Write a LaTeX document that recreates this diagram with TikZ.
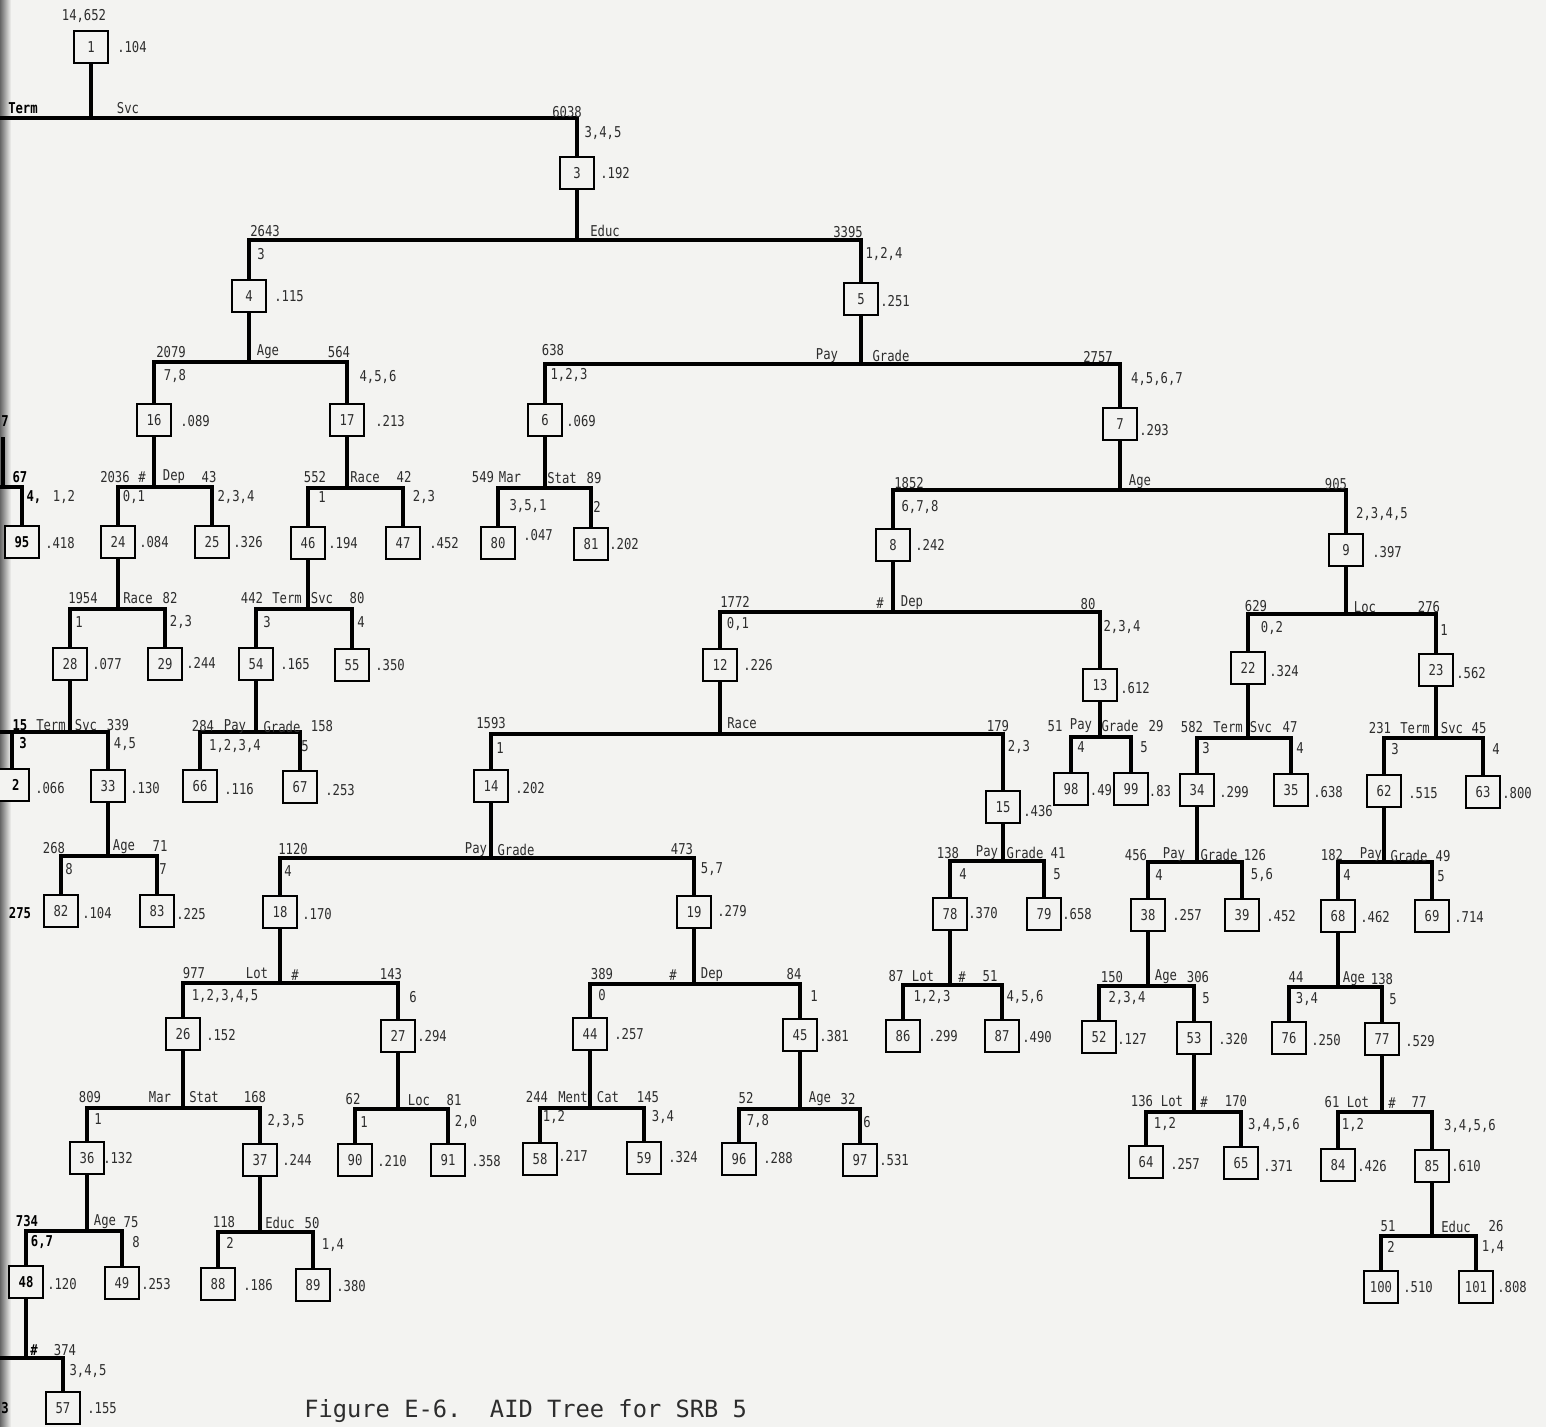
\documentclass[tikz,border=0pt]{standalone}
\usepackage{fontspec}
\newfontfamily\lblfont[FakeStretch=0.82]{DejaVu Sans Mono}
\newfontfamily\capfont{DejaVu Sans Mono}
\definecolor{bg}{RGB}{243,243,241}
\definecolor{ink}{RGB}{45,45,45}
\newcounter{lbc}
\tikzset{
  bx/.style={draw=black, line width=1.2pt, fill=bg, minimum width=0.68cm, minimum height=0.64cm,
    inner sep=0pt, font=\lblfont\fontsize{8.5}{10}\selectfont, text=ink},
  lab/.style={inner sep=0pt, font=\lblfont\fontsize{8.5}{10}\selectfont, text=ink},
  bld/.style={font=\lblfont\bfseries\fontsize{8.5}{10}\selectfont, text=black},
  edge/.style={line width=2.1pt, draw=black, line join=miter},
}
\newcommand\bnode[6]{\node[bx] (n#1) at (#2,#3) {#1};\node[lab] (v#1) at (#5,#6) {#4};}
\newcommand\lb[3]{\stepcounter{lbc}\node[lab] (t\arabic{lbc}) at (#1,#2) {#3};}
\newcommand\lbb[3]{\stepcounter{lbc}\node[lab,bld] (t\arabic{lbc}) at (#1,#2) {#3};}
\newcommand\spl[4]{%
  \draw[edge] (n#1.south) -- (n#1.south |- 0,#4);
  \draw[edge] (n#2.north) -- (n#2.north |- 0,#4) -- (n#3.north |- 0,#4) -- (n#3.north);}
\begin{document}
\begin{tikzpicture}[x=0.02cm, y=-0.02cm]
\useasboundingbox (0,0) rectangle (1546,1427);
\clip (0,0) rectangle (1546,1427);
\fill[bg] (0,0) rectangle (1546,1427);
\shade[left color=black!60, right color=bg] (0,0) rectangle (11,1427);

% ---------- boxes ----------
\bnode{1}{91}{47}{.104}{132}{47}
\bnode{3}{577}{173}{.192}{615}{173}
\bnode{4}{249}{296}{.115}{289}{296}
\bnode{5}{861}{299}{.251}{895}{301}
\bnode{6}{545}{420}{.069}{581}{421}
\bnode{7}{1120}{424}{.293}{1154}{430}
\bnode{16}{154}{420}{.089}{195}{421}
\bnode{17}{347}{420}{.213}{390}{421}
\bnode{24}{118}{542}{.084}{154}{542}
\bnode{25}{212}{542}{.326}{248}{542}
\bnode{46}{308}{543}{.194}{343}{543}
\bnode{47}{403}{543}{.452}{444}{543}
\bnode{80}{498}{543}{.047}{538}{535}
\bnode{81}{591}{544}{.202}{624}{544}
\bnode{8}{893}{545}{.242}{930}{545}
\bnode{9}{1346}{550}{.397}{1387}{552}
\bnode{12}{720}{665}{.226}{758}{665}
\bnode{13}{1100}{685}{.612}{1135}{688}
\bnode{22}{1248}{668}{.324}{1284}{671}
\bnode{23}{1436}{670}{.562}{1471}{673}
\bnode{28}{70}{664}{.077}{107}{664}
\bnode{29}{165}{664}{.244}{201}{663}
\bnode{54}{256}{664}{.165}{295}{664}
\bnode{55}{352}{665}{.350}{390}{665}
\bnode{33}{108}{786}{.130}{145}{788}
\bnode{66}{200}{786}{.116}{239}{789}
\bnode{67}{300}{787}{.253}{340}{790}
\bnode{14}{491}{786}{.202}{530}{788}
\bnode{15}{1003}{807}{.436}{1038}{811}
\bnode{98}{1071}{789}{.49}{1101}{790}
\bnode{99}{1131}{789}{.83}{1160}{791}
\bnode{34}{1197}{790}{.299}{1234}{792}
\bnode{35}{1291}{790}{.638}{1328}{792}
\bnode{62}{1384}{791}{.515}{1423}{793}
\bnode{63}{1483}{792}{.800}{1517}{793}
\bnode{82}{61}{911}{.104}{97}{913}
\bnode{83}{157}{911}{.225}{191}{914}
\bnode{18}{280}{912}{.170}{317}{914}
\bnode{19}{694}{912}{.279}{732}{911}
\bnode{78}{950}{914}{.370}{983}{913}
\bnode{79}{1044}{914}{.658}{1077}{914}
\bnode{38}{1148}{915}{.257}{1187}{915}
\bnode{39}{1242}{915}{.452}{1281}{916}
\bnode{68}{1338}{916}{.462}{1375}{917}
\bnode{69}{1432}{916}{.714}{1469}{917}
\bnode{26}{183}{1034}{.152}{221}{1035}
\bnode{27}{398}{1036}{.294}{432}{1036}
\bnode{44}{590}{1034}{.257}{629}{1034}
\bnode{45}{800}{1035}{.381}{834}{1036}
\bnode{86}{903}{1036}{.299}{943}{1036}
\bnode{87}{1002}{1036}{.490}{1037}{1037}
\bnode{52}{1099}{1037}{.127}{1132}{1039}
\bnode{53}{1194}{1038}{.320}{1233}{1039}
\bnode{76}{1289}{1038}{.250}{1326}{1040}
\bnode{77}{1382}{1039}{.529}{1420}{1041}
\bnode{36}{87}{1158}{.132}{118}{1158}
\bnode{37}{260}{1160}{.244}{297}{1160}
\bnode{90}{355}{1160}{.210}{392}{1161}
\bnode{91}{448}{1160}{.358}{486}{1161}
\bnode{58}{540}{1159}{.217}{573}{1156}
\bnode{59}{644}{1158}{.324}{683}{1157}
\bnode{96}{739}{1159}{.288}{778}{1158}
\bnode{97}{860}{1160}{.531}{894}{1160}
\bnode{64}{1146}{1162}{.257}{1185}{1164}
\bnode{65}{1241}{1163}{.371}{1278}{1166}
\bnode{84}{1338}{1165}{.426}{1372}{1166}
\bnode{85}{1432}{1166}{.610}{1466}{1166}
\bnode{49}{122}{1283}{.253}{156}{1284}
\bnode{88}{218}{1284}{.186}{258}{1285}
\bnode{89}{313}{1285}{.380}{351}{1286}
\bnode{100}{1381}{1287}{.510}{1418}{1287}
\bnode{101}{1476}{1287}{.808}{1512}{1287}
\bnode{57}{63}{1408}{.155}{102}{1408}
% bold / truncated boxes at the left edge
\node[bx,bld,line width=1.6pt] (n95) at (22,542) {95};
\node[lab] (v95) at (60,543) {.418};
\node[bx,bld,line width=1.6pt] (n48) at (26,1282) {48};
\node[lab] (v48) at (62,1284) {.120};
\node[bx,bld,line width=1.6pt] (n2x) at (12,785) {\hphantom{3}2};
\node[lab] (v2x) at (50,788) {.066};

% ---------- connectors ----------
\coordinate (e0) at (0,118);
\draw[edge] (n1.south) -- (n1.south |- e0);
\draw[edge] (e0) -- (n3.north |- e0) -- (n3.north);
\spl{3}{4}{5}{240}
\spl{4}{16}{17}{362}
\spl{5}{6}{7}{364}
\spl{16}{24}{25}{487}
\spl{17}{46}{47}{488}
\spl{6}{80}{81}{488}
\spl{7}{8}{9}{490}
\spl{24}{28}{29}{609}
\spl{46}{54}{55}{609}
\spl{8}{12}{13}{612}
\spl{9}{22}{23}{614}
\spl{54}{66}{67}{732}
\spl{12}{14}{15}{734}
\spl{13}{98}{99}{737}
\spl{22}{34}{35}{738}
\spl{23}{62}{63}{738}
\spl{33}{82}{83}{856}
\spl{14}{18}{19}{858}
\spl{15}{78}{79}{861}
\spl{34}{38}{39}{862}
\spl{62}{68}{69}{862}
\spl{18}{26}{27}{983}
\spl{19}{44}{45}{984}
\spl{78}{86}{87}{985}
\spl{38}{52}{53}{986}
\spl{68}{76}{77}{987}
\spl{26}{36}{37}{1108}
\spl{27}{90}{91}{1109}
\spl{44}{58}{59}{1108}
\spl{45}{96}{97}{1109}
\spl{53}{64}{65}{1112}
\spl{77}{84}{85}{1112}
\spl{36}{48}{49}{1231}
\spl{37}{88}{89}{1232}
\spl{85}{100}{101}{1236}
% truncated splits at the left edge
\coordinate (e1) at (0,487);
\coordinate (e4) at (3,437);
\draw[edge] (e4) -- (e4 |- e1);
\draw[edge] (e1) -- (n95.north |- e1) -- (n95.north);
\coordinate (e2) at (0,732);
\draw[edge] (n28.south) -- (n28.south |- e2);
\draw[edge] (e2) -- (n33.north |- e2) -- (n33.north);
\draw[edge] (n2x.north) -- (n2x.north |- e2);
\coordinate (e3) at (0,1358);
\draw[edge] (n48.south) -- (n48.south |- e3);
\draw[edge] (e3) -- (n57.north |- e3) -- (n57.north);

% ---------- labels ----------
\lb{84}{16}{14,652}
\lbb{23}{108}{Term}\lb{128}{108}{Svc}\lb{567}{112}{6038}\lb{603}{133}{3,4,5}
\lb{265}{231}{2643}\lb{605}{231}{Educ}\lb{848}{232}{3395}\lb{261}{254}{3}\lb{884}{254}{1,2,4}
\lb{171}{352}{2079}\lb{268}{352}{Age}\lb{339}{352}{564}\lb{175}{376}{7,8}\lb{378}{377}{4,5,6}
\lb{553}{350}{638}\lb{827}{356}{Pay}\lb{891}{356}{Grade}\lb{1098}{357}{2757}\lb{569}{375}{1,2,3}\lb{1157}{379}{4,5,6,7}
\lbb{5}{421}{7}
\lbb{20}{477}{67}\lbb{34}{497}{4,}\lb{64}{497}{1,2}
\lb{115}{477}{2036}\lb{142}{477}{\#}\lb{174}{477}{Dep}\lb{209}{477}{43}\lb{134}{497}{0,1}\lb{236}{497}{2,3,4}
\lb{315}{477}{552}\lb{365}{477}{Race}\lb{404}{477}{42}\lb{322}{497}{1}\lb{424}{497}{2,3}
\lb{483}{477}{549}\lb{510}{477}{Mar}\lb{562}{478}{Stat}\lb{594}{478}{89}\lb{528}{506}{3,5,1}\lb{597}{507}{2}
\lb{909}{483}{1852}\lb{1140}{482}{Age}\lb{1336}{484}{905}\lb{920}{507}{6,7,8}\lb{1382}{514}{2,3,4,5}
\lb{83}{598}{1954}\lb{138}{598}{Race}\lb{170}{598}{82}\lb{79}{622}{1}\lb{181}{622}{2,3}
\lb{252}{598}{442}\lb{287}{598}{Term}\lb{322}{598}{Svc}\lb{357}{598}{80}\lb{267}{622}{3}\lb{361}{622}{4}
\lb{735}{602}{1772}\lb{880}{603}{\#}\lb{912}{603}{Dep}\lb{1088}{604}{80}\lb{738}{624}{0,1}\lb{1122}{627}{2,3,4}
\lb{1256}{606}{629}\lb{1365}{607}{Loc}\lb{1429}{607}{276}\lb{1272}{628}{0,2}\lb{1444}{630}{1}
\lbb{20}{725}{15}\lb{51}{725}{Term}\lb{86}{725}{Svc}\lb{118}{725}{339}\lbb{23}{743}{3}\lb{125}{744}{4,5}
\lb{203}{726}{284}\lb{235}{727}{Pay}\lb{282}{727}{Grade}\lb{322}{726}{158}\lb{235}{746}{1,2,3,4}\lb{305}{746}{5}
\lb{491}{723}{1593}\lb{742}{723}{Race}\lb{998}{726}{179}\lb{500}{748}{1}\lb{1019}{747}{2,3}
\lb{1055}{726}{51}\lb{1081}{726}{Pay}\lb{1120}{726}{Grade}\lb{1156}{726}{29}\lb{1081}{747}{4}\lb{1144}{747}{5}
\lb{1192}{727}{582}\lb{1228}{727}{Term}\lb{1261}{727}{Svc}\lb{1290}{727}{47}\lb{1206}{748}{3}\lb{1300}{748}{4}
\lb{1380}{728}{231}\lb{1415}{728}{Term}\lb{1452}{728}{Svc}\lb{1479}{728}{45}\lb{1395}{749}{3}\lb{1496}{749}{4}
\lb{54}{848}{268}\lb{124}{847}{Age}\lb{160}{846}{71}\lb{69}{869}{8}\lb{163}{869}{7}
\lbb{20}{913}{275}
\lb{293}{849}{1120}\lb{476}{850}{Pay}\lb{516}{850}{Grade}\lb{682}{849}{473}\lb{288}{871}{4}\lb{712}{869}{5,7}
\lb{948}{853}{138}\lb{987}{853}{Pay}\lb{1025}{853}{Grade}\lb{1058}{853}{41}\lb{963}{874}{4}\lb{1057}{874}{5}
\lb{1136}{855}{456}\lb{1174}{855}{Pay}\lb{1219}{855}{Grade}\lb{1255}{855}{126}\lb{1159}{875}{4}\lb{1262}{875}{5,6}
\lb{1332}{855}{182}\lb{1371}{855}{Pay}\lb{1409}{856}{Grade}\lb{1443}{856}{49}\lb{1347}{875}{4}\lb{1441}{876}{5}
\lb{194}{973}{977}\lb{257}{973}{Lot}\lb{295}{975}{\#}\lb{391}{974}{143}\lb{225}{996}{1,2,3,4,5}\lb{413}{997}{6}
\lb{602}{974}{389}\lb{673}{975}{\#}\lb{712}{975}{Dep}\lb{794}{974}{84}\lb{602}{995}{0}\lb{814}{996}{1}
\lb{896}{976}{87}\lb{923}{976}{Lot}\lb{962}{977}{\#}\lb{990}{976}{51}\lb{932}{997}{1,2,3}\lb{1025}{997}{4,5,6}
\lb{1112}{977}{150}\lb{1166}{977}{Age}\lb{1198}{977}{306}\lb{1127}{998}{2,3,4}\lb{1206}{998}{5}
\lb{1296}{977}{44}\lb{1354}{979}{Age}\lb{1382}{979}{138}\lb{1307}{999}{3,4}\lb{1393}{999}{5}
\lb{90}{1097}{809}\lb{160}{1097}{Mar}\lb{204}{1097}{Stat}\lb{255}{1097}{168}\lb{98}{1119}{1}\lb{286}{1121}{2,3,5}
\lb{353}{1099}{62}\lb{419}{1100}{Loc}\lb{454}{1100}{81}\lb{364}{1122}{1}\lb{466}{1122}{2,0}
\lb{537}{1097}{244}\lb{573}{1097}{Ment}\lb{608}{1097}{Cat}\lb{648}{1097}{145}\lb{554}{1117}{1,2}\lb{663}{1117}{3,4}
\lb{746}{1098}{52}\lb{820}{1099}{Age}\lb{848}{1099}{32}\lb{758}{1121}{7,8}\lb{867}{1122}{6}
\lb{1142}{1101}{136}\lb{1172}{1101}{Lot}\lb{1204}{1102}{\#}\lb{1236}{1101}{170}\lb{1165}{1124}{1,2}\lb{1274}{1125}{3,4,5,6}
\lb{1332}{1102}{61}\lb{1358}{1102}{Lot}\lb{1392}{1103}{\#}\lb{1419}{1102}{77}\lb{1353}{1125}{1,2}\lb{1470}{1126}{3,4,5,6}
\lbb{27}{1221}{734}\lb{105}{1222}{Age}\lb{131}{1222}{75}\lbb{42}{1242}{6,7}\lb{136}{1242}{8}
\lb{224}{1222}{118}\lb{280}{1223}{Educ}\lb{312}{1223}{50}\lb{230}{1243}{2}\lb{333}{1245}{1,4}
\lb{1388}{1226}{51}\lb{1456}{1227}{Educ}\lb{1496}{1226}{26}\lb{1391}{1247}{2}\lb{1493}{1247}{1,4}
\lbb{34}{1350}{\#}\lb{65}{1350}{374}\lb{88}{1371}{3,4,5}
\lbb{5}{1408}{3}
\node[anchor=west, inner sep=0pt, font=\capfont\fontsize{13.5}{16}\selectfont, text=ink] (cap) at (304,1411)
  {Figure E-6.\ \ AID Tree for SRB 5};
\end{tikzpicture}
\end{document}
